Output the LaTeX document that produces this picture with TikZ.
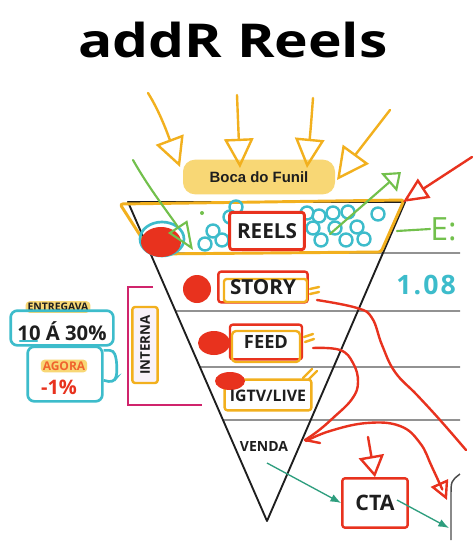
\documentclass[tikz,border=0pt]{standalone}
\usepackage{fontspec}
\setmainfont{Open Sans}
\newfontfamily\bocafont{Liberation Sans}
\usepackage{graphicx}
\usetikzlibrary{arrows.meta,calc,positioning}

\definecolor{penyellow}{HTML}{F2B01E}
\definecolor{hilite}{HTML}{F8D775}
\definecolor{penred}{HTML}{E8321E}
\definecolor{penorange}{HTML}{F0642D}
\definecolor{pengreen}{HTML}{72C04C}
\definecolor{pencyan}{HTML}{3DBCCB}
\definecolor{penteal}{HTML}{2E9E7E}
\definecolor{penpink}{HTML}{D0246C}
\definecolor{ink}{HTML}{1E1E1E}

\newcommand{\fsz}[1]{\fontsize{#1}{#1}\selectfont}

\tikzset{
  pen/.style={line width=1.8pt,line cap=round,line join=round},
  opentip/.style={-{Triangle[open,length=#1,width=#1]}},
  redbox/.style={draw=penred,pen,rounded corners=2pt,inner sep=0pt},
  ylwbox/.style={draw=penyellow,pen,rounded corners=2pt,inner sep=0pt},
  cyanbox/.style={draw=pencyan,line width=2pt,rounded corners=5pt,inner sep=0pt},
  marker/.style={fill=hilite,rounded corners=3pt,inner sep=1.5pt},
  lbl/.style={font=\bfseries,text=ink,inner sep=0pt}
}

\begin{document}
\begin{tikzpicture}[x=0.75pt,y=-0.75pt]
  \fill[white] (0,0) rectangle (474,543);
  \useasboundingbox (0,0) rectangle (474,543);

  \node[lbl,text=black] (title) at (233,40) {\scalebox{1.22}[1]{\fsz{35}addR Reels}};

  % boca do funil
  \node[fill=hilite,rounded corners=9pt,minimum width=114pt,minimum height=26pt,inner sep=0pt,
        font=\bocafont\bfseries\fsz{11.2},text=ink] (boca) at (259,177) {Boca do Funil};

  % funil
  \coordinate (fl) at (128,202);
  \coordinate (fr) at (405,202);
  \coordinate (tip) at (267,521);
  \foreach \yy in {253,311,367,420}{
    \pgfmathsetmacro{\pos}{(\yy-202)/319}
    \draw[line width=0.9pt,black!65] ($(fl)!\pos!(tip)$) -- (460,\yy);
  }
  \draw[line width=1.4pt,ink,line join=round] (fl) -- (tip) -- (fr) -- cycle;

  % faixa reels
  \draw[penyellow,pen,line width=2.2pt,rounded corners=2pt] (120,204) -- (404,200) -- (381,252) -- (152,254) -- cycle;
  \draw[pencyan,line width=2pt] (162,239) ellipse (22 and 17);
  \fill[penred] (161,242) ellipse (20 and 15);
  \foreach \cx/\cy in {205/244,213/231,222/240,230/217,236/207,307/213,313/228,321/240,319/216,333/213,335/228,348/212,357/227,346/240,364/239,378/214}
    \draw[pencyan,line width=1.8pt] (\cx,\cy) circle (6.5);
  \fill[pengreen] (202,213) circle (2);
  \node[redbox,fill=white,line width=2.2pt,minimum width=56pt,minimum height=28pt,lbl,font=\bfseries\fsz{15.5}] (reels) at (267,231) {REELS};

  % setas amarelas
  \draw[penyellow,pen,opentip=22pt] (148,93) .. controls (160,112) and (168,135) .. (180,167);
  \draw[penyellow,pen,opentip=22pt] (237,95) .. controls (238,120) .. (240,168);
  \draw[penyellow,pen,opentip=22pt] (313,98) .. controls (311,125) .. (307,168);
  \draw[penyellow,pen,opentip=24pt] (390,110) .. controls (372,132) .. (337,180);

  % setas verdes e vermelha do topo
  \draw[pengreen,pen,line width=1.6pt,-{Triangle[open,length=21pt,width=17pt]}] (133,160) .. controls (150,190) and (170,215) .. (193,250);
  \draw[pengreen,pen,line width=1.6pt,-{Triangle[open,length=12pt,width=18pt]}] (330,234) -- (401,172);
  \draw[penred,pen,-{Triangle[open,length=19pt,width=17pt]}] (472,157) -- (403,202);
  \node[pengreen,inner sep=0pt,anchor=west,font=\fsz{24}] (eletter) at (430,229) {E:};
  \draw[pengreen,pen,line width=1.6pt] (397,231) -- (eletter.west);
  \node[pencyan,inner sep=0pt,anchor=west,font=\bfseries\fsz{20}\addfontfeature{LetterSpace=8}] (views) at (396,285) {1.08};

  % story
  \fill[penred] (197,289) circle (14);
  \node[redbox,minimum width=67pt,minimum height=23pt] (storybox) at (263,287) {};
  \draw[penyellow,pen,rounded corners=2pt] (224,279) rectangle (307,302);
  \node[lbl,font=\bfseries\fsz{15.5}] (story) at (263,287) {STORY};
  \draw[penyellow,pen] (310,289) -- (319,287) (310,294) -- (319,292);

  % feed
  \fill[penred] (214,343) ellipse (16 and 12);
  \node[redbox,minimum width=54pt,minimum height=26pt] (feedbox) at (266,342) {};
  \draw[penyellow,pen,rounded corners=3pt] (232,331) rectangle (300,362);
  \node[lbl,font=\bfseries\fsz{13.7}] (feed) at (266,342) {FEED};
  \draw[penyellow,pen] (304,337) -- (313,334) (305,342) -- (314,339);

  % igtv
  \node[ylwbox,minimum width=65pt,minimum height=23pt] (igtvbox) at (268,395) {};
  \fill[penred] (230,381) ellipse (15 and 9);
  \node[lbl,font=\bfseries\fsz{11.9}] (igtv) at (268,396) {IGTV/LIVE};
  \draw[penyellow,pen] (303,378) -- (312,369) (308,380) -- (317,371);

  % venda
  \node[lbl,font=\bfseries\fsz{10.5}] (venda) at (264,446) {VENDA};

  % cta
  \node[redbox,minimum width=49pt,minimum height=37pt,lbl,font=\bfseries\fsz{16}] (cta) at (375,503) {CTA};
  \coordinate (ctain) at (368,437);
  \draw[penred,pen,-{Triangle[open,length=16pt,width=19pt]}] (ctain) -- (cta.north);
  \coordinate (vendafoot) at (267,463);
  \coordinate (ctaout) at (397,500);
  \coordinate (sideR) at (449,528);
  \draw[penteal,line width=1pt,-{Latex[length=8pt,width=6pt]}] (vendafoot) -- (cta.west);
  \draw[penteal,line width=1pt,-{Latex[length=8pt,width=6pt]}] (ctaout) -- (sideR);
  \draw[black!70,line width=1.1pt] (460,474) .. controls (451,481) .. (451,496) -- (451,540);

  % caminhos vermelhos
  \draw[penred,pen] plot[smooth,tension=0.7] coordinates {(317,300) (357,308) (372,318) (382,345) (395,372) (417,395) (440,420) (466,450)};
  \draw[penred,pen] plot[smooth,tension=0.7] coordinates {(313,348) (340,350) (353,363) (358,382) (352,399) (333,418) (318,431) (305,440)};
  \draw[penred,pen] (305,440) -- (320,443);
  \draw[penred,pen,-{Triangle[open,length=14pt,width=14pt]}] plot[smooth,tension=0.7] coordinates {(306,441) (330,431) (367,423) (400,426) (420,443) (432,467) (447,500)};

  % interna
  \draw[penpink,line width=1.3pt] (153,287) -- (128,287) -- (128,405) -- (202,405);
  \node[ylwbox,fill=violet!5,rotate=90,minimum width=57pt,minimum height=19pt,lbl,font=\bfseries\fsz{10}] (interna) at (145,345) {INTERNA};

  % antes e agora
  \node[marker,lbl,font=\bfseries\fsz{7.8},inner sep=1.5pt] (entregava) at (58,307) {ENTREGAVA};
  \node[cyanbox,minimum width=77pt,minimum height=26pt] (antesbox) at (62,328) {};
  \node[lbl,font=\bfseries\fsz{15.2}] (antes) at (62,331) {10 Á 30\%};
  \draw[pencyan,pen] (20,341) -- (37,341);
  \node[cyanbox,minimum width=56pt,minimum height=41pt] (agorabox) at (65,374) {};
  \draw[pencyan,line width=2pt,rounded corners=3pt] (agorabox.north east) ++(0,5) -- ++(10,0) -- ++(3,10) -- ++(0,17) -- ++(-4,5) -- ++(-9,-2);
  \node[marker,font=\bfseries\fsz{9},text=penorange,inner sep=1.5pt] (agora) at (64,366) {AGORA};
  \node[lbl,font=\bfseries\fsz{15},text=penred] (menos) at (59,387) {-1\%};
\end{tikzpicture}
\end{document}
